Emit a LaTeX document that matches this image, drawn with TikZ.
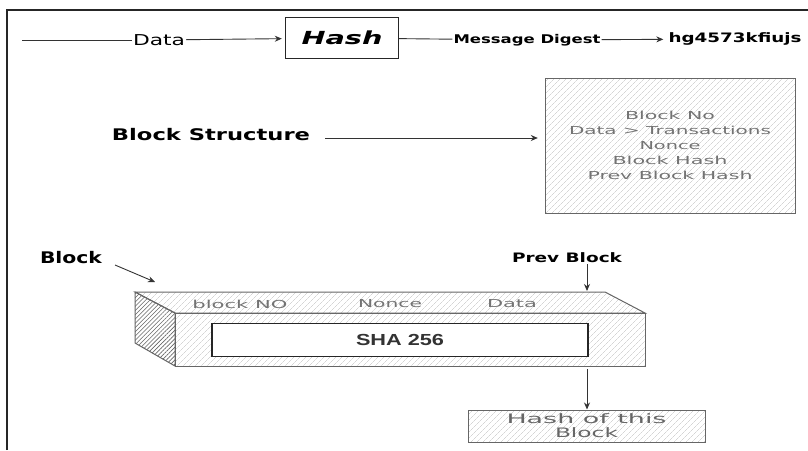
\documentclass[tikz,border=0pt]{standalone}
\usepackage{fontspec}
\usepackage{graphicx}
\setmainfont{DejaVu Sans}
\newfontfamily\libsans{Liberation Sans}
\newcommand{\fitw}[2]{\resizebox{#1}{\height}{#2}}
\usetikzlibrary{arrows.meta,patterns.meta}
\begin{document}
\begin{tikzpicture}[x=1pt,y=-1pt,
  lbl/.style={inner sep=1pt},
  hand/.style={font=\fontsize{11}{15}\selectfont, text=black!55, align=center, inner sep=1pt},
  hatch/.style={pattern={Lines[angle=45,distance=4pt,line width=0.4pt]}, pattern color=black!25},
  darkhatch/.style={pattern={Lines[angle=45,distance=3pt,line width=0.6pt]}, pattern color=black!60},
  sketch/.style={draw=black!60, line width=1pt},
  arr/.style={-{Stealth[length=7pt,width=6pt]}, line width=0.9pt, draw=black!80},
  ln/.style={line width=0.9pt, draw=black!80}]
\useasboundingbox (0,0) rectangle (808,450);
\fill[white] (0,0) rectangle (808,450);
% frame
\draw[line width=1.6pt, black!85] (7,450) -- (7,10) -- (808,10);

% top row
\coordinate (start) at (22,40);
\node[lbl, font=\fontsize{15}{17}\selectfont] (data) at (159,40) {\fitw{52pt}{Data}};
\node[draw=black!85, line width=1.4pt, minimum width=113pt, minimum height=41pt,
      font=\bfseries\itshape\fontsize{18}{20}\selectfont] (hash) at (342,38) {\fitw{81pt}{Hash}};
\node[lbl, font=\bfseries\fontsize{12}{14}\selectfont] (md) at (527,40) {\fitw{147pt}{Message Digest}};
\node[lbl, font=\bfseries\fontsize{13}{15}\selectfont] (hg) at (735,39) {\fitw{133pt}{hg4573kfiujs}};
\draw[ln] (start) -- (data);
\draw[arr, shorten >=3pt] (data) -- (hash);
\draw[ln] (hash) -- (md);
\draw[arr, shorten >=4pt] (md) -- (hg);

% block structure
\node[lbl, font=\bfseries\fontsize{16}{18}\selectfont] (bs) at (211,135) {\fitw{198pt}{Block Structure}};
\node[sketch, hatch, minimum width=250pt, minimum height=135pt, hand] (struct) at (670,145.5)
  {\fitw{90pt}{Block No}\\\fitw{202pt}{Data > Transactions}\\\fitw{61pt}{Nonce}\\\fitw{115pt}{Block Hash}\\\fitw{165pt}{Prev Block Hash}};
\draw[arr, shorten <=14pt, shorten >=7pt] (bs.east |- 0,138) -- (struct.west |- 0,138);

% labels above block
\node[lbl, font=\bfseries\fontsize{16}{18}\selectfont] (blk) at (71,258) {\fitw{62pt}{Block}};
\node[lbl, font=\bfseries\fontsize{13}{15}\selectfont] (pb) at (567,258) {\fitw{110pt}{Prev Block}};

% 3D block
\coordinate (tl) at (135,292);
\coordinate (tr) at (605,292);
\coordinate (fl) at (175,313);
\coordinate (fr) at (645,313);
\coordinate (bl) at (175,366);
\coordinate (br) at (645,366);
\coordinate (ll) at (135,343);
\coordinate (topin) at (587,291);
\coordinate (botout) at (587,369);
\coordinate (blkstart) at (115,265);
\coordinate (blkhit) at (155,282);
% top face
\draw[sketch, hatch] (tl) -- (tr) -- (fr) -- (fl) -- cycle;
% left face
\draw[sketch, darkhatch] (tl) -- (fl) -- (bl) -- (ll) -- cycle;
% front face
\draw[sketch, hatch] (fl) -- (fr) -- (br) -- (bl) -- cycle;
% inner SHA box
\node[draw=black!85, line width=1.2pt, fill=white, minimum width=376pt, minimum height=33pt,
      font=\libsans\bfseries\fontsize{16}{18}\selectfont, text=black!80] (sha) at (400,340) {\fitw{88pt}{SHA 256}};
% top face labels
\node[hand] (bno) at (240,304) {\fitw{95pt}{block NO}};
\node[hand] (nonce) at (390,304) {\fitw{64pt}{Nonce}};
\node[hand] (dta) at (512,304) {\fitw{50pt}{Data}};

% arrows
\draw[arr] (blkstart) -- (blkhit);
\draw[arr] (topin |- pb.south) -- (topin);
\node[sketch, hatch, minimum width=237pt, minimum height=32pt,
      font=\fontsize{13}{14}\selectfont, text=black!60, align=center, inner sep=1pt] (hob) at (586.5,426)
  {\fitw{160pt}{Hash of this}\\\fitw{63pt}{Block}};
\draw[arr] (botout) -- (hob.north -| botout);
\end{tikzpicture}
\end{document}
